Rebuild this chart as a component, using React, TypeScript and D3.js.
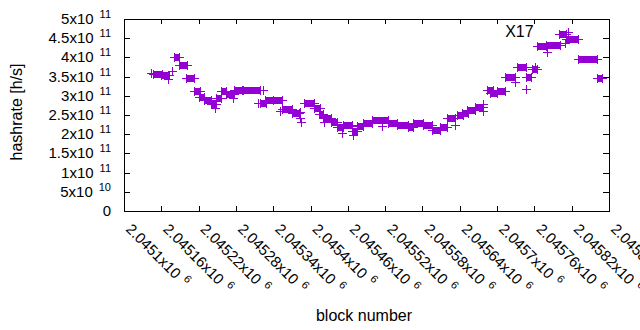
import React from 'react';
import * as d3 from 'd3';

// x tick values (block numbers) and their labels
const xTicks = [2045100, 2045160, 2045220, 2045280, 2045340, 2045400, 2045460,
    2045520, 2045580, 2045640, 2045700, 2045760, 2045820, 2045880];
const xTickText = ["2.0451", "2.04516", "2.04522", "2.04528", "2.04534", "2.0454", "2.04546",
    "2.04552", "2.04558", "2.04564", "2.0457", "2.04576", "2.04582", "2.04588"];

// y tick values (hashrate) and their labels [mantissa, exponent]
const yTicks = [0, 5e10, 1e11, 1.5e11, 2e11, 2.5e11, 3e11, 3.5e11, 4e11, 4.5e11, 5e11];
const yTickText: [string, string][] = [["0", ""], ["5x10", "10"], ["1x10", "11"], ["1.5x10", "11"],
    ["2x10", "11"], ["2.5x10", "11"], ["3x10", "11"], ["3.5x10", "11"], ["4x10", "11"],
    ["4.5x10", "11"], ["5x10", "11"]];

// runs of blocks with (nearly) the same estimate: [first block, last block, hashrate]
const plateaus: [number, number, number][] = [
    [2045147, 2045161, 3.57e11], [2045160, 2045172, 3.54e11], [2045180, 2045189, 4.01e11],
    [2045189, 2045201, 3.79e11], [2045200, 2045213, 3.46e11], [2045213, 2045222, 3.12e11],
    [2045221, 2045229, 2.97e11], [2045229, 2045240, 2.89e11], [2045240, 2045248, 2.79e11],
    [2045248, 2045256, 2.94e11], [2045256, 2045264, 3.12e11], [2045264, 2045277, 3.05e11],
    [2045277, 2045291, 3.16e11], [2045290, 2045319, 3.14e11], [2045319, 2045328, 2.81e11],
    [2045327, 2045340, 2.90e11], [2045340, 2045354, 2.89e11], [2045354, 2045370, 2.66e11],
    [2045370, 2045381, 2.55e11], [2045390, 2045406, 2.81e11], [2045406, 2045415, 2.67e11],
    [2045414, 2045420, 2.53e11], [2045420, 2045433, 2.42e11], [2045433, 2045443, 2.33e11],
    [2045443, 2045452, 2.20e11], [2045452, 2045467, 2.23e11], [2045467, 2045475, 2.08e11],
    [2045475, 2045484, 2.21e11], [2045484, 2045499, 2.28e11], [2045499, 2045525, 2.37e11],
    [2045525, 2045539, 2.28e11], [2045539, 2045557, 2.23e11], [2045557, 2045565, 2.19e11],
    [2045565, 2045581, 2.28e11], [2045581, 2045595, 2.24e11], [2045595, 2045608, 2.10e11],
    [2045608, 2045619, 2.19e11], [2045619, 2045632, 2.41e11], [2045636, 2045645, 2.50e11],
    [2045644, 2045653, 2.56e11], [2045652, 2045665, 2.64e11], [2045665, 2045677, 2.72e11],
    [2045684, 2045693, 3.15e11], [2045689, 2045700, 3.07e11], [2045700, 2045713, 3.12e11],
    [2045713, 2045729, 3.50e11], [2045732, 2045746, 3.74e11], [2045746, 2045755, 3.49e11],
    [2045756, 2045764, 3.71e11], [2045764, 2045779, 4.30e11], [2045779, 2045801, 4.32e11],
    [2045800, 2045811, 4.62e11], [2045811, 2045830, 4.47e11], [2045830, 2045861, 3.97e11],
    [2045861, 2045869, 3.46e11]
];

// single points off the runs: [block, hashrate]
const strays: [number, number][] = [
    [2045143, 3.59e11], [2045171, 3.44e11], [2045177, 3.65e11], [2045246, 2.68e11],
    [2045275, 2.94e11], [2045316, 2.81e11], [2045324, 3.15e11], [2045351, 2.60e11],
    [2045383, 2.58e11], [2045383, 2.42e11], [2045385, 2.32e11], [2045422, 2.32e11],
    [2045451, 2.03e11], [2045468, 1.98e11], [2045515, 2.21e11], [2045632, 2.24e11],
    [2045677, 2.79e11], [2045677, 2.60e11], [2045729, 3.36e11], [2045746, 3.18e11],
    [2045761, 3.75e11], [2045780, 4.14e11], [2045814, 4.66e11], [2045809, 4.37e11]
];

const W = 640, H = 330;
const left = 124, right = 609, top = 19, bottom = 211;
const color = "#9400d3";
const font = "'Liberation Sans', Arial, sans-serif";

export default function App() {
    const x = d3.scaleLinear().domain([2045100, 2045880]).range([left, right]);
    const y = d3.scaleLinear().domain([0, 5e11]).range([bottom, top]);
    const arm = 4.5;
    const px = (v: number) => Math.round(v) + 0.5;

    return (
        <svg width={W} height={H} style={{position: 'absolute', left: 0, top: 0}}
             fontFamily={font} fontSize={15}>
            <rect width={W} height={H} fill="white"/>
            {/* data */}
            <g stroke={color} fill={color} strokeWidth={1} shapeRendering="crispEdges">
                {plateaus.map(([a, b, r], i) => {
                    const x0 = px(x(a)), x1 = px(x(b)), yy = px(y(r));
                    return (
                        <g key={i}>
                            <rect x={x0} y={yy - 3.5} width={x1 - x0} height={7} stroke="none"/>
                            <line x1={x0 - arm} x2={x1 + arm} y1={yy} y2={yy}/>
                            <line x1={x0} x2={x0} y1={yy - arm} y2={yy + arm}/>
                            <line x1={x1} x2={x1} y1={yy - arm} y2={yy + arm}/>
                        </g>
                    );
                })}
                {strays.map(([b, r], i) => {
                    const cx = px(x(b)), cy = px(y(r));
                    return (
                        <g key={i}>
                            <line x1={cx - arm} x2={cx + arm} y1={cy} y2={cy}/>
                            <line x1={cx} x2={cx} y1={cy - arm} y2={cy + arm}/>
                        </g>
                    );
                })}
            </g>
            {/* border and ticks */}
            <g stroke="black" strokeWidth={1} shapeRendering="crispEdges" fill="none">
                <rect x={left + 0.5} y={top + 0.5} width={right - left} height={bottom - top}/>
                {yTicks.map((t, i) => (
                    <g key={i}>
                        <line x1={left} x2={left + 6} y1={px(y(t))} y2={px(y(t))}/>
                        <line x1={right} x2={right - 6} y1={px(y(t))} y2={px(y(t))}/>
                    </g>
                ))}
                {xTicks.map((t, i) => (
                    <g key={i}>
                        <line x1={px(x(t))} x2={px(x(t))} y1={bottom} y2={bottom - 5}/>
                        <line x1={px(x(t))} x2={px(x(t))} y1={top} y2={top + 5}/>
                    </g>
                ))}
            </g>
            {/* y tick labels */}
            {yTicks.map((t, i) => (
                <text key={i} x={111} y={y(t) + 5} textAnchor="end">
                    {yTickText[i][0]}
                    {yTickText[i][1] &&
                        <tspan dx={6} dy={-6} fontSize={11}>{yTickText[i][1]}</tspan>}
                </text>
            ))}
            {/* x tick labels */}
            {xTicks.map((t, i) => (
                <text key={i} transform={`translate(${x(t) + 1},230) rotate(45)`}>
                    {xTickText[i] + "x10"}
                    <tspan dx={6} dy={-6} fontSize={11}>6</tspan>
                </text>
            ))}
            <text transform="translate(22,112) rotate(-90)" textAnchor="middle" fontSize={16}>hashrate [h/s]</text>
            <text x={364} y={321} textAnchor="middle" fontSize={16}>block number</text>
            <text x={x(2045713)} y={y(4.53e11)} fontSize={16}>X17</text>
        </svg>
    );
}
